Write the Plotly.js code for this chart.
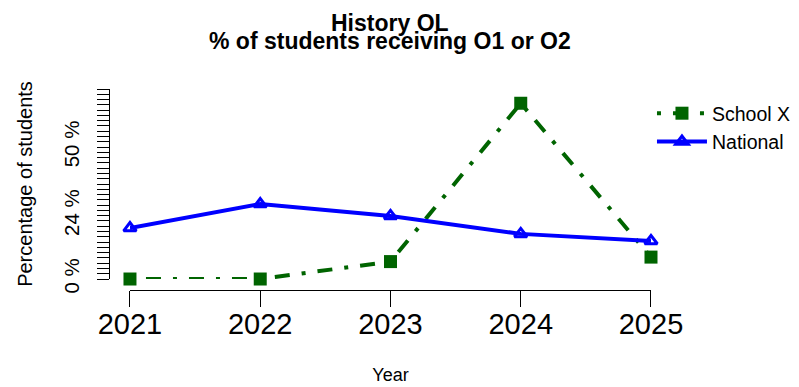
<!DOCTYPE html>
<html><head><meta charset="utf-8">
<script src="https://cdn.plot.ly/plotly-3.0.1.min.js"></script>
<style>html,body{margin:0;padding:0;background:#fff}</style>
</head><body><div id="chart" style="width:799px;height:387px"></div>
<script>
const years = [2021, 2022, 2023, 2024, 2025];
const schoolX = [0, 0, 6.6, 66.6, 8.3];
const national = [19.3, 28.4, 23.9, 17.1, 14.4];
const seriesNames = ["School X", "National"];
const yTickVals = [0,2,4,6,8,10,12,14,16,18,20,22,24,26,28,30,32,34,36,38,40,42,44,46,48,50,52,54,56,58,60,62,64,66,68,70,72];
const yTickText = ["0 %","","","","","","","","","","","","24 %","","","","","","","","","","","","","50 %","","","","","","","","","","",""];
const xTickText = ["2021","2022","2023","2024","2025"];
const titleLines = ["History OL", "% of students receiving O1 or O2"];

const FONT = "Liberation Sans, Arial, Helvetica, sans-serif";
const traces = [
  {x: years, y: schoolX, name: seriesNames[0], type: "scatter", mode: "lines+markers", cliponaxis: false,
   line: {color: "#006400", width: 4, dash: "4px,12px,15px,12px"},
   marker: {symbol: "square", size: 13, color: "#006400"}},
  {x: years, y: national, name: seriesNames[1], type: "scatter", mode: "lines+markers", cliponaxis: false,
   line: {color: "#0000FF", width: 4},
   marker: {symbol: "triangle-up-open", size: 11, color: "#0000FF", line: {width: 3, color: "#0000FF"}}}
];
const layout = {
  width: 799, height: 387,
  margin: {l: 109, r: 148, t: 89, b: 97, pad: 0, autoexpand: false},
  paper_bgcolor: "#fff", plot_bgcolor: "#fff",
  font: {family: FONT, color: "#000"},
  showlegend: true,
  legend: {x: 1.0018, xanchor: "left", y: 0.975, yanchor: "top", itemwidth: 50,
    font: {size: 19.5, family: FONT}, bgcolor: "rgba(0,0,0,0)", borderwidth: 0},
  xaxis: {domain: [0.0387, 1], range: [2021, 2025], anchor: "free", position: 0,
    tickvals: years, ticktext: xTickText, showgrid: false, zeroline: false,
    showline: true, linecolor: "#000", linewidth: 1, ticks: "outside", ticklen: 16, tickwidth: 1, tickcolor: "#000",
    tickfont: {size: 29}, ticklabelstandoff: -8,
    title: {text: "Year", font: {size: 18}, standoff: 29}},
  yaxis: {domain: [0.0547, 1], range: [0, 72], anchor: "free", position: 0,
    tickvals: yTickVals, ticktext: yTickText, tickangle: -90, showgrid: false, zeroline: false,
    showline: true, linecolor: "#000", linewidth: 1, ticks: "outside", ticklen: 12, tickwidth: 1, tickcolor: "#000",
    tickfont: {size: 20.5}, ticklabelstandoff: 10,
    title: {text: "Percentage of students", font: {size: 20}, standoff: 20}},
  annotations: [
    {text: "<b>" + titleLines[0] + "</b>", xref: "paper", yref: "paper", x: 0.5185, y: 1.328, xanchor: "center", yanchor: "middle", showarrow: false, font: {size: 23, family: FONT}},
    {text: "<b>" + titleLines[1] + "</b>", xref: "paper", yref: "paper", x: 0.5185, y: 1.2388, xanchor: "center", yanchor: "middle", showarrow: false, font: {size: 23, family: FONT}}
  ]
};
Plotly.newPlot("chart", traces, layout, {displayModeBar: false, staticPlot: true});
</script></body></html>
